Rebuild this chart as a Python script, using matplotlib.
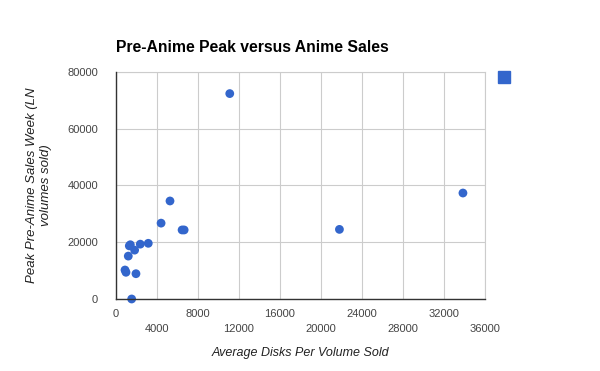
"""Pre-anime peak vs anime sales scatter."""

import matplotlib

matplotlib.use("Agg", force=True)
import matplotlib.pyplot as plt
from matplotlib.lines import Line2D

plt.rcParams["font.family"] = ["Liberation Sans", "DejaVu Sans"]

# average disks per volume sold
disks = [11100, 33850, 21800, 5270, 4400, 6450, 6650, 1300, 1400,
         1820, 2370, 3150, 1200, 880, 975, 1950, 1530]
# peak pre-anime sales week (LN volumes sold)
peak = [72300, 37300, 24500, 34500, 26700, 24300, 24300, 18700, 19100,
        17200, 19300, 19600, 15100, 10200, 9400, 8900, 0]

x_ticks = list(range(0, 36001, 4000))
y_ticks = list(range(0, 80001, 20000))
blue = "#3366cc"

fig = plt.figure(figsize=(6, 3.71), dpi=100)
ax = fig.add_axes([0.1933, 0.1941, 0.615, 0.6126])

ax.scatter(disks, peak, s=40, color=blue, edgecolors="none", zorder=3,
           clip_on=False)

ax.set_xlim(0, 36000)
ax.set_ylim(0, 80000)
ax.set_xticks(x_ticks)
ax.set_yticks(y_ticks)
# staggered x labels, every other one drops to a second row
ax.set_xticklabels([str(v) if i % 2 == 0 else "\n" + str(v)
                    for i, v in enumerate(x_ticks)], linespacing=1.6)
ax.set_yticklabels([str(v) for v in y_ticks])
ax.tick_params(length=0, labelsize=8, labelcolor="#444444")
ax.tick_params(axis="x", pad=7)
ax.tick_params(axis="y", pad=13)

ax.grid(True, color="#cccccc", linewidth=0.8)
ax.set_axisbelow(True)
for side in ("top", "right"):
    ax.spines[side].set_color("#cccccc")
    ax.spines[side].set_linewidth(0.8)
for side in ("left", "bottom"):
    ax.spines[side].set_color("#333333")
    ax.spines[side].set_linewidth(1.0)
    ax.spines[side].set_zorder(4)

ax.set_xlabel("Average Disks Per Volume Sold", fontsize=9, style="italic",
              color="#222222", labelpad=10)
ax.set_ylabel("Peak Pre-Anime Sales Week (LN\nvolumes sold)", fontsize=9.5,
              style="italic", color="#222222", labelpad=11, linespacing=1.25)

fig.text(0.1933, 0.872, "Pre-Anime Peak versus Anime Sales", fontsize=11.3,
         fontweight="bold", color="#000000", va="center", ha="left")

handle = Line2D([], [], marker="s", linestyle="", color=blue, markersize=9)
ax.legend([handle], [""], loc="upper left", bbox_to_anchor=(1.015, 1.035),
          frameon=False, handletextpad=0, borderpad=0, handlelength=1)

fig.savefig("out.png", dpi=100)
plt.close(fig)
